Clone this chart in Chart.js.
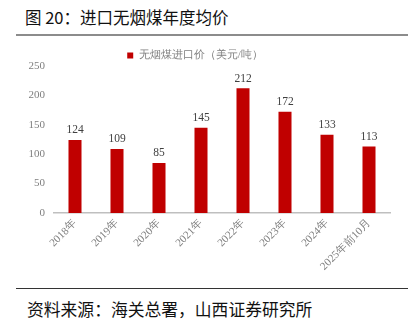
<!DOCTYPE html>
<html><head><meta charset="utf-8">
<script src="https://cdn.jsdelivr.net/npm/chart.js@4.4.1/dist/chart.umd.min.js"></script>
<style>
html,body{margin:0;padding:0;background:#fff;}
body{width:418px;height:332px;position:relative;overflow:hidden;font-family:"Noto Sans CJK SC","Noto Sans",sans-serif;}
#title{position:absolute;left:25px;top:5px;font-size:16.5px;color:#111;white-space:nowrap;}
#l1{position:absolute;left:16px;top:34px;width:392px;height:2px;background:#8c8c8c;}
#l2{position:absolute;left:16px;top:288px;width:392px;height:1px;background:#333;}
#src{position:absolute;left:27px;top:297px;font-size:16.8px;color:#111;white-space:nowrap;}
#wrap{position:absolute;left:0;top:44px;width:418px;height:244px;}
</style></head><body>
<div id="title">图 20：进口无烟煤年度均价</div>
<div id="l1"></div>
<div id="wrap"><canvas id="c"></canvas></div>
<div id="l2"></div>
<div id="src">资料来源：海关总署，山西证券研究所</div>
<script>
const categories = ["2018年","2019年","2020年","2021年","2022年","2023年","2024年","2025年前10月"];
const prices = [124,109,85,145,212,172,133,113];
const seriesName = "无烟煤进口价（美元/吨）";
const yTicks = [0,50,100,150,200,250];

const serif = '"Liberation Serif","Times New Roman",serif';
const labelPlugin = {
  id:'vals',
  afterDatasetsDraw(chart){
    const ctx = chart.ctx;
    const meta = chart.getDatasetMeta(0);
    ctx.save();
    ctx.font = '11.5px ' + serif;
    ctx.fillStyle = '#404040';
    ctx.textAlign = 'center';
    ctx.textBaseline = 'bottom';
    meta.data.forEach((el,i)=>{
      ctx.fillText(String(prices[i]), el.x, el.y - 4);
    });
    ctx.restore();
  }
};
const legendFit = {
  id:'legendFit',
  beforeInit(chart){
    const orig = chart.legend.fit;
    chart.legend.fit = function(){ orig.bind(chart.legend)(); this.height = 22; };
  }
};
new Chart(document.getElementById('c'),{
  type:'bar',
  data:{labels:categories,datasets:[{label:seriesName,data:prices,backgroundColor:'#C00000',borderColor:'#A00000',borderWidth:0,categoryPercentage:1,barPercentage:0.31}]},
  options:{
    responsive:true,maintainAspectRatio:false,animation:false,
    layout:{padding:{left:0,right:28,top:0,bottom:0}},
    plugins:{
      legend:{display:true,position:'top',labels:{boxWidth:6,boxHeight:6,padding:6,color:'#7f7f7f',font:{family:serif,size:11}}},
      tooltip:{enabled:false}
    },
    scales:{
      x:{grid:{display:false,drawTicks:false},border:{display:true,color:'#bfbfbf',width:1.5},
         ticks:{color:'#7f7f7f',font:{family:serif,size:11},maxRotation:45,minRotation:45,padding:4,autoSkip:false},
         afterFit(s){s.height = 75;}},
      y:{min:0,max:250,grid:{display:false,drawTicks:false},border:{display:false},
         afterBuildTicks(s){s.ticks = yTicks.map(v=>({value:v}));},
         ticks:{color:'#7f7f7f',font:{family:serif,size:11},padding:9},
         afterFit(s){s.width = 54;}}
    }
  },
  plugins:[labelPlugin,legendFit]
});
</script>
</body></html>
